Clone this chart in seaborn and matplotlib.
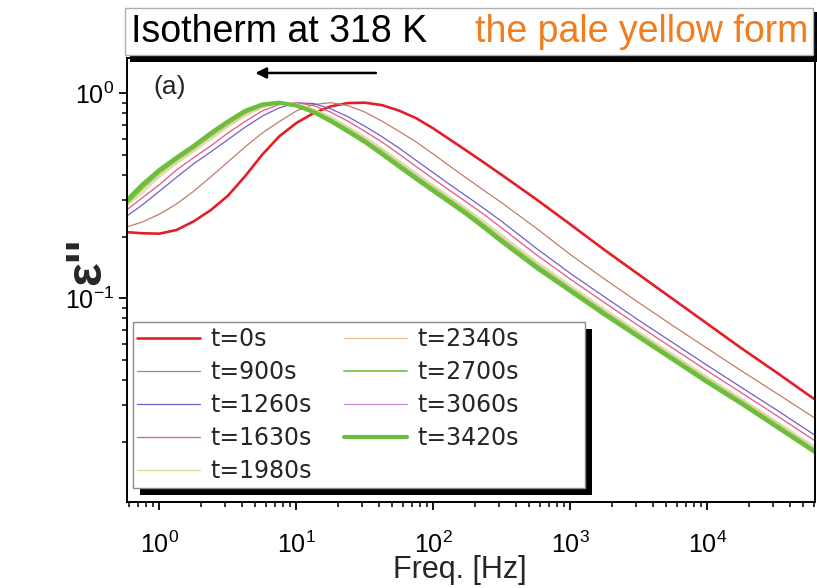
import numpy as np
import matplotlib
matplotlib.use("Agg")
import matplotlib.pyplot as plt
import seaborn as sns
from matplotlib.patches import Rectangle
from matplotlib.ticker import LogLocator, NullFormatter

# ---- data: log10(frequency / Hz) and log10(eps'') ----
log_freq = [-0.25, -0.125, 0.0, 0.125, 0.25, 0.375, 0.5, 0.625, 0.75, 0.875, 1.0,
            1.125, 1.25, 1.375, 1.5, 1.625, 1.75, 1.875, 2.0, 2.125, 2.25, 2.375, 2.5,
            2.75, 3.0, 3.25, 3.5, 3.75, 4.0, 4.25, 4.5, 4.75, 5.0]

labels = ["t=0s", "t=900s", "t=1260s", "t=1630s", "t=1980s",
          "t=2340s", "t=2700s", "t=3060s", "t=3420s"]

log_eps_0 = [-0.677, -0.683, -0.685, -0.667, -0.625, -0.570, -0.500, -0.405, -0.300, -0.210, -0.145,
             -0.097, -0.064, -0.048, -0.046, -0.058, -0.085, -0.122, -0.172, -0.228, -0.284, -0.341, -0.399,
             -0.517, -0.640, -0.765, -0.885, -1.005, -1.125, -1.245, -1.360, -1.478, -1.590]
log_eps_900 = [-0.655, -0.628, -0.590, -0.540, -0.478, -0.408, -0.335, -0.262, -0.194, -0.138, -0.086,
               -0.055, -0.046, -0.060, -0.092, -0.136, -0.186, -0.238, -0.297, -0.358, -0.418, -0.477, -0.535,
               -0.658, -0.787, -0.907, -1.022, -1.135, -1.245, -1.355, -1.462, -1.570, -1.680]
log_eps_1260 = [-0.605, -0.545, -0.478, -0.410, -0.344, -0.286, -0.226, -0.166, -0.112, -0.071, -0.047,
                -0.050, -0.076, -0.114, -0.161, -0.212, -0.268, -0.328, -0.388, -0.448, -0.506, -0.565, -0.626,
                -0.756, -0.879, -0.994, -1.108, -1.218, -1.328, -1.436, -1.543, -1.653, -1.763]
log_eps_1630 = [-0.575, -0.510, -0.446, -0.374, -0.314, -0.257, -0.194, -0.138, -0.086, -0.055, -0.046,
                -0.060, -0.092, -0.136, -0.186, -0.238, -0.297, -0.358, -0.418, -0.477, -0.535, -0.594, -0.658,
                -0.787, -0.907, -1.022, -1.135, -1.245, -1.355, -1.462, -1.570, -1.680, -1.790]
log_eps_1980 = [-0.555, -0.488, -0.410, -0.344, -0.286, -0.226, -0.166, -0.112, -0.071, -0.048, -0.050,
                -0.076, -0.114, -0.161, -0.212, -0.268, -0.328, -0.388, -0.448, -0.506, -0.565, -0.626, -0.691,
                -0.819, -0.936, -1.051, -1.163, -1.273, -1.383, -1.489, -1.598, -1.708, -1.818]
log_eps_2340 = [-0.550, -0.475, -0.399, -0.335, -0.277, -0.216, -0.158, -0.104, -0.066, -0.047, -0.055,
                -0.081, -0.121, -0.168, -0.220, -0.276, -0.337, -0.397, -0.456, -0.515, -0.573, -0.636, -0.701,
                -0.828, -0.945, -1.060, -1.171, -1.281, -1.391, -1.496, -1.606, -1.716, -1.826]
log_eps_2700 = [-0.546, -0.463, -0.388, -0.326, -0.268, -0.207, -0.149, -0.096, -0.061, -0.048, -0.057,
                -0.086, -0.127, -0.176, -0.228, -0.285, -0.346, -0.406, -0.465, -0.523, -0.582, -0.645, -0.711,
                -0.837, -0.953, -1.068, -1.179, -1.289, -1.399, -1.504, -1.614, -1.724, -1.834]
log_eps_3060 = [-0.538, -0.454, -0.381, -0.320, -0.263, -0.200, -0.144, -0.091, -0.058, -0.047, -0.059,
                -0.089, -0.132, -0.181, -0.233, -0.291, -0.352, -0.412, -0.471, -0.529, -0.588, -0.652, -0.717,
                -0.844, -0.959, -1.074, -1.185, -1.295, -1.405, -1.510, -1.620, -1.730, -1.840]
log_eps_3420 = [-0.530, -0.446, -0.374, -0.314, -0.257, -0.194, -0.138, -0.086, -0.055, -0.046, -0.060,
                -0.092, -0.136, -0.186, -0.238, -0.297, -0.358, -0.418, -0.477, -0.535, -0.594, -0.658, -0.724,
                -0.850, -0.965, -1.080, -1.190, -1.300, -1.410, -1.515, -1.625, -1.735, -1.845]

series = [log_eps_0, log_eps_900, log_eps_1260, log_eps_1630, log_eps_1980,
          log_eps_2340, log_eps_2700, log_eps_3060, log_eps_3420]

colors = ["#E41E26", "#BF7E68", "#6F5FD0", "#E9567F", "#C9E39A",
          "#EBBF8F", "#7CC44A", "#C58AD8", "#6DBE3C"]
widths = [1.9, 0.9, 0.9, 0.9, 0.9, 0.9, 1.3, 0.9, 3.0]

# ---- style ----
sns.set_style("ticks")
plt.rcParams['font.family'] = ['Liberation Sans', 'DejaVu Sans']
plt.rcParams['axes.linewidth'] = 1.4
plt.rcParams['axes.unicode_minus'] = False

W, H = 817, 588
fig = plt.figure(figsize=(W / 100, H / 100), dpi=100)
ax = fig.add_axes([127 / W, 1 - 502 / H, 688 / W, 444 / H])
ax.set_xscale('log')
ax.set_yscale('log')

freq = 10 ** np.array(log_freq)
for lab, vals, c, lw in zip(labels, series, colors, widths):
    sns.lineplot(x=freq, y=10 ** np.array(vals), ax=ax, color=c, linewidth=lw,
                 label=lab, sort=False, estimator=None)

ax.set_xlim(10 ** -0.2365, 10 ** 4.785)
ax.set_ylim(10 ** -1.994, 10 ** 0.172)

ax.xaxis.set_minor_locator(LogLocator(base=10, subs=np.arange(2, 10), numticks=100))
ax.yaxis.set_minor_locator(LogLocator(base=10, subs=np.arange(2, 10), numticks=100))
ax.xaxis.set_minor_formatter(NullFormatter())
ax.yaxis.set_minor_formatter(NullFormatter())
ax.tick_params(which='major', direction='out', length=6, width=1.3, colors='black', labelsize=18)
ax.tick_params(which='minor', direction='out', length=3.5, width=1.1, colors='black')
ax.tick_params(axis='x', which='major', pad=15)
ax.tick_params(axis='y', which='major', pad=3)
ax.tick_params(top=False, right=False, which='both')
for s in ax.spines.values():
    s.set_color('black')

ax.set_xlabel("Freq. [Hz]", fontsize=22)
ax.xaxis.set_label_coords((460 - 127) / 688, (502 - 555) / 444)
ax.set_ylabel("ε''", fontsize=36, fontweight='bold')
ax.yaxis.set_label_coords((110 - 127) / 688, (502 - 261) / 444)

# legend: frame + black shadow drawn at the reference's place, entries on top
ax.add_patch(Rectangle((140, H - 495), 452, 166, transform=None, facecolor='black',
                       edgecolor='none', zorder=8, clip_on=False))
ax.add_patch(Rectangle((133, H - 488), 452, 166, transform=None, facecolor='white',
                       edgecolor='#8c8c8c', linewidth=1.0, zorder=9, clip_on=False))
leg = ax.legend(ncol=2, loc='upper left', bbox_to_anchor=((137 - 127) / 688, (502 - 327) / 444),
                borderaxespad=0, frameon=False, prop={'family': 'DejaVu Sans', 'size': 17},
                handlelength=2.67, handletextpad=0.42, columnspacing=1.38,
                labelspacing=0.38, borderpad=0.0)
leg.set_zorder(10)

# arrow and panel tag
ax.annotate('', xy=(10 ** 0.70, 10 ** 0.099), xytext=(10 ** 1.58, 10 ** 0.099),
            arrowprops=dict(arrowstyle='-|>', color='black', lw=1.8, mutation_scale=16,
                            shrinkA=0, shrinkB=0))
fig.text(153 / W, 1 - 87 / H, "(a)", fontsize=19, va='center', ha='left')

# title box with shadow
fig.patches.append(Rectangle((130 / W, 1 - 62 / H), 687 / W, 50 / H, transform=fig.transFigure,
                             facecolor='black', edgecolor='none', zorder=1))
fig.patches.append(Rectangle((125 / W, 1 - 55 / H), 688 / W, 47 / H, transform=fig.transFigure,
                             facecolor='white', edgecolor='#b0b0b0', linewidth=1, zorder=2))
fig.text(131 / W, 1 - 32 / H, "Isotherm at 318 K", fontsize=27, va='center', ha='left',
         color='black', zorder=3)
fig.text(808 / W, 1 - 32 / H, "the pale yellow form", fontsize=27, va='center', ha='right',
         color='#F07D1E', zorder=3)

fig.savefig("out.png", dpi=100)
